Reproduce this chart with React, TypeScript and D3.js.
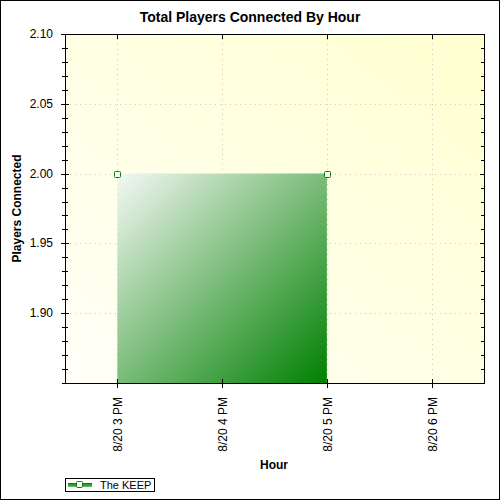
import * as d3 from "d3";
import { useEffect, useRef } from "react";

// data
const hours = [new Date(2000, 7, 20, 15), new Date(2000, 7, 20, 17)];
const players = [2.0, 2.0];
const xTickHours = [15, 16, 17, 18];
const yTicks = [1.9, 1.95, 2.0, 2.05, 2.1];
const seriesName = "The KEEP";

const App: React.FC = () => {
    const svgRef = useRef<SVGSVGElement | null>(null);

    useEffect(() => {
        const svg = d3.select(svgRef.current);
        svg.selectAll("*").remove();

        const width = 500, height = 500;
        const left = 65, right = 484, top = 34, bottom = 383;
        const font = "Liberation Sans, Arial, sans-serif";

        const x = d3.scaleTime()
            .domain([new Date(2000, 7, 20, 14, 30), new Date(2000, 7, 20, 18, 30)])
            .range([left, right]);
        const y = d3.scaleLinear().domain([1.85, 2.1]).range([bottom, top]);

        const defs = svg.append("defs");
        const bg = defs.append("linearGradient").attr("id", "bg")
            .attr("x1", "0").attr("y1", "1").attr("x2", "1").attr("y2", "0");
        bg.append("stop").attr("offset", "0").attr("stop-color", "#fffff8");
        bg.append("stop").attr("offset", "1").attr("stop-color", "#ffffd0");

        const fillG = defs.append("linearGradient").attr("id", "fillG")
            .attr("x1", "0").attr("y1", "0").attr("x2", "1").attr("y2", "1");
        fillG.append("stop").attr("offset", "0").attr("stop-color", "#f4f8f4");
        fillG.append("stop").attr("offset", "1").attr("stop-color", "#008000");

        const legG = defs.append("linearGradient").attr("id", "legG")
            .attr("x1", "0").attr("y1", "0").attr("x2", "0").attr("y2", "1");
        legG.append("stop").attr("offset", "0").attr("stop-color", "#008000");
        legG.append("stop").attr("offset", "1").attr("stop-color", "#6cb86c");

        // page background + outer frame
        svg.append("rect").attr("x", 0.5).attr("y", 0.5).attr("width", width - 1).attr("height", height - 1)
            .attr("fill", "#fff").attr("stroke", "#000");

        // plot background
        svg.append("rect").attr("x", left).attr("y", top)
            .attr("width", right - left).attr("height", bottom - top)
            .attr("fill", "url(#bg)");

        // grid
        svg.append("g").selectAll("line").data(yTicks).join("line")
            .attr("x1", left).attr("x2", right)
            .attr("y1", d => Math.round(y(d)) + 0.5).attr("y2", d => Math.round(y(d)) + 0.5)
            .attr("stroke", "#c8c8c8").attr("stroke-dasharray", "1,4");
        svg.append("g").selectAll("line").data(xTickHours).join("line")
            .attr("y1", top).attr("y2", bottom)
            .attr("x1", d => Math.round(x(new Date(2000, 7, 20, d))) + 0.5)
            .attr("x2", d => Math.round(x(new Date(2000, 7, 20, d))) + 0.5)
            .attr("stroke", "#c8c8c8").attr("stroke-dasharray", "1,4");

        // area
        const area = d3.area<number>()
            .x((_, i) => x(hours[i]))
            .y0(bottom)
            .y1(d => y(d));
        svg.append("path").datum(players).attr("d", area).attr("fill", "url(#fillG)");

        // markers
        svg.append("g").selectAll("rect").data(players).join("rect")
            .attr("x", (_, i) => Math.round(x(hours[i])) - 3 + 0.5)
            .attr("y", d => Math.round(y(d)) - 3 + 0.5)
            .attr("width", 6).attr("height", 6).attr("rx", 1)
            .attr("fill", "#fff").attr("stroke", "#008000");

        // frame
        svg.append("rect").attr("x", left + 0.5).attr("y", top + 0.5)
            .attr("width", right - left).attr("height", bottom - top)
            .attr("fill", "none").attr("stroke", "#000");

        // y ticks
        const yMinor = d3.range(185, 211).map(v => v / 100);
        const yt = svg.append("g");
        yt.selectAll("line.l").data(yMinor).join("line").attr("class", "l")
            .attr("x1", d => left - (yTicks.some(t => Math.abs(t - d) < 1e-6) ? 4 : 3))
            .attr("x2", d => left + (yTicks.some(t => Math.abs(t - d) < 1e-6) ? 4 : 3))
            .attr("y1", d => Math.round(y(d)) + 0.5).attr("y2", d => Math.round(y(d)) + 0.5)
            .attr("stroke", "#000");
        yt.selectAll("line.r").data(yMinor).join("line").attr("class", "r")
            .attr("x1", d => right - (yTicks.some(t => Math.abs(t - d) < 1e-6) ? 4 : 3))
            .attr("x2", right + 1)
            .attr("y1", d => Math.round(y(d)) + 0.5).attr("y2", d => Math.round(y(d)) + 0.5)
            .attr("stroke", "#000");
        yt.selectAll("text").data(yTicks).join("text")
            .attr("x", 53).attr("y", d => y(d) + 4)
            .attr("text-anchor", "end").attr("font-family", font).attr("font-size", 12)
            .text(d => d.toFixed(2));

        // x ticks
        const xt = svg.append("g");
        xTickHours.forEach(h => {
            const xp = Math.round(x(new Date(2000, 7, 20, h))) + 0.5;
            xt.append("line").attr("x1", xp).attr("x2", xp).attr("y1", bottom - 4).attr("y2", bottom + 5).attr("stroke", "#000");
            xt.append("line").attr("x1", xp).attr("x2", xp).attr("y1", top).attr("y2", top + 5).attr("stroke", "#000");
            const label = `8/20 ${h > 12 ? h - 12 : h} PM`;
            xt.append("text")
                .attr("transform", `translate(${xp + 4},${bottom + 14}) rotate(-90)`)
                .attr("text-anchor", "end").attr("font-family", font).attr("font-size", 12)
                .text(label);
        });

        // titles
        svg.append("text").attr("x", 250).attr("y", 22).attr("text-anchor", "middle")
            .attr("font-family", font).attr("font-size", 14).attr("font-weight", "bold")
            .text("Total Players Connected By Hour");
        svg.append("text").attr("x", 274).attr("y", 469).attr("text-anchor", "middle")
            .attr("font-family", font).attr("font-size", 12).attr("font-weight", "bold")
            .text("Hour");
        svg.append("text").attr("transform", `translate(21,${(top + bottom) / 2}) rotate(-90)`)
            .attr("text-anchor", "middle")
            .attr("font-family", font).attr("font-size", 12).attr("font-weight", "bold")
            .text("Players Connected");

        // legend
        const lg = svg.append("g");
        lg.append("rect").attr("x", 65.5).attr("y", 478.5).attr("width", 89).attr("height", 13)
            .attr("fill", "#fff").attr("stroke", "#000");
        lg.append("rect").attr("x", 68).attr("y", 483).attr("width", 24).attr("height", 4).attr("fill", "url(#legG)");
        lg.append("rect").attr("x", 76.5).attr("y", 481.5).attr("width", 6).attr("height", 6).attr("rx", 1)
            .attr("fill", "#fff").attr("stroke", "#008000");
        lg.append("text").attr("x", 100).attr("y", 489).attr("font-family", font).attr("font-size", 11)
            .text(seriesName);
    }, []);

    return (
        <svg ref={svgRef} width={500} height={500}
            style={{ position: "absolute", left: 0, top: 0, display: "block" }} />
    );
};

export default App;
